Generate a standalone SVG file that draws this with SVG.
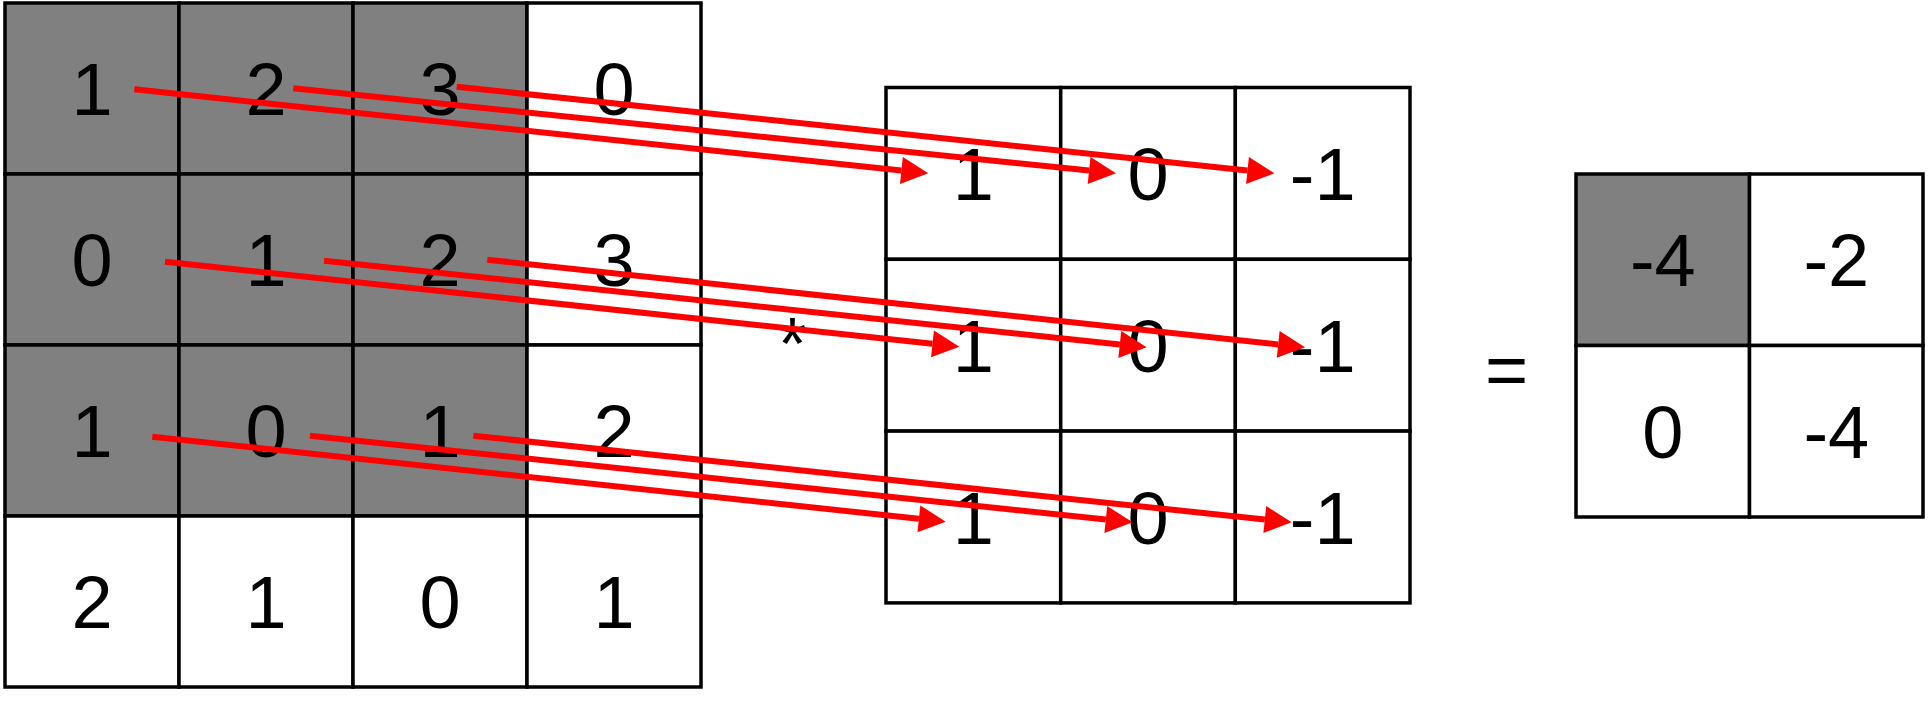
<svg xmlns="http://www.w3.org/2000/svg" width="1929" height="705" viewBox="0 0 1929 705">
<style>
.c{fill:#ffffff;stroke:#000000;stroke-width:3.5}
.g{fill:#808080;stroke:#000000;stroke-width:3.5}
.t{font-family:"Liberation Sans",Arial,sans-serif;font-size:74px;fill:#000000;text-anchor:middle}
.a{fill:none;stroke:#ff0000;stroke-width:6}
</style>
<defs>
<marker id="ah" markerUnits="userSpaceOnUse" markerWidth="28" markerHeight="28" refX="0" refY="13.5" orient="auto" overflow="visible">
<path d="M0,0 L27,13.5 L0,27 Z" fill="#ff0000"/>
</marker>
</defs>
<rect width="1929" height="705" fill="#ffffff"/>
<!-- Input matrix -->
<g id="in-r0c0"><rect class="g" x="5" y="3" width="174" height="171"/><text class="t" x="92" y="115">1</text></g>
<g id="in-r0c1"><rect class="g" x="179" y="3" width="174" height="171"/><text class="t" x="266" y="115">2</text></g>
<g id="in-r0c2"><rect class="g" x="353" y="3" width="174" height="171"/><text class="t" x="440" y="115">3</text></g>
<g id="in-r0c3"><rect class="c" x="527" y="3" width="174" height="171"/><text class="t" x="614" y="115">0</text></g>
<g id="in-r1c0"><rect class="g" x="5" y="174" width="174" height="171"/><text class="t" x="92" y="286">0</text></g>
<g id="in-r1c1"><rect class="g" x="179" y="174" width="174" height="171"/><text class="t" x="266" y="286">1</text></g>
<g id="in-r1c2"><rect class="g" x="353" y="174" width="174" height="171"/><text class="t" x="440" y="286">2</text></g>
<g id="in-r1c3"><rect class="c" x="527" y="174" width="174" height="171"/><text class="t" x="614" y="286">3</text></g>
<g id="in-r2c0"><rect class="g" x="5" y="345" width="174" height="171"/><text class="t" x="92" y="457">1</text></g>
<g id="in-r2c1"><rect class="g" x="179" y="345" width="174" height="171"/><text class="t" x="266" y="457">0</text></g>
<g id="in-r2c2"><rect class="g" x="353" y="345" width="174" height="171"/><text class="t" x="440" y="457">1</text></g>
<g id="in-r2c3"><rect class="c" x="527" y="345" width="174" height="171"/><text class="t" x="614" y="457">2</text></g>
<g id="in-r3c0"><rect class="c" x="5" y="516" width="174" height="171"/><text class="t" x="92" y="628">2</text></g>
<g id="in-r3c1"><rect class="c" x="179" y="516" width="174" height="171"/><text class="t" x="266" y="628">1</text></g>
<g id="in-r3c2"><rect class="c" x="353" y="516" width="174" height="171"/><text class="t" x="440" y="628">0</text></g>
<g id="in-r3c3"><rect class="c" x="527" y="516" width="174" height="171"/><text class="t" x="614" y="628">1</text></g>
<!-- Kernel -->
<g id="k-r0c0"><rect class="c" x="886" y="87.5" width="174.7" height="171.8"/><text class="t" x="973.3" y="200">1</text></g>
<g id="k-r0c1"><rect class="c" x="1060.7" y="87.5" width="174.7" height="171.8"/><text class="t" x="1148" y="200">0</text></g>
<g id="k-r0c2"><rect class="c" x="1235.3" y="87.5" width="174.7" height="171.8"/><text class="t" x="1322.7" y="200">-1</text></g>
<g id="k-r1c0"><rect class="c" x="886" y="259.3" width="174.7" height="171.8"/><text class="t" x="973.3" y="371.7">1</text></g>
<g id="k-r1c1"><rect class="c" x="1060.7" y="259.3" width="174.7" height="171.8"/><text class="t" x="1148" y="371.7">0</text></g>
<g id="k-r1c2"><rect class="c" x="1235.3" y="259.3" width="174.7" height="171.8"/><text class="t" x="1322.7" y="371.7">-1</text></g>
<g id="k-r2c0"><rect class="c" x="886" y="431.1" width="174.7" height="171.8"/><text class="t" x="973.3" y="543.5">1</text></g>
<g id="k-r2c1"><rect class="c" x="1060.7" y="431.1" width="174.7" height="171.8"/><text class="t" x="1148" y="543.5">0</text></g>
<g id="k-r2c2"><rect class="c" x="1235.3" y="431.1" width="174.7" height="171.8"/><text class="t" x="1322.7" y="543.5">-1</text></g>
<!-- Output -->
<g id="out-r0c0"><rect class="g" x="1576" y="174" width="173.5" height="171.5"/><text class="t" x="1662.8" y="286.3">-4</text></g>
<g id="out-r0c1"><rect class="c" x="1749.5" y="174" width="173.5" height="171.5"/><text class="t" x="1836.3" y="286.3">-2</text></g>
<g id="out-r1c0"><rect class="c" x="1576" y="345.5" width="173.5" height="171.5"/><text class="t" x="1662.8" y="457.8">0</text></g>
<g id="out-r1c1"><rect class="c" x="1749.5" y="345.5" width="173.5" height="171.5"/><text class="t" x="1836.3" y="457.8">-4</text></g>
<!-- Operators -->
<g id="op-mul"><text class="t" x="792.5" y="369">*</text></g>
<g id="op-eq"><text class="t" x="1506.5" y="395">=</text></g>
<!-- Connectors -->
<g id="connectors">
<path class="a" marker-end="url(#ah)" d="M134.3,89.3 L901.4,170.5"/>
<path class="a" marker-end="url(#ah)" d="M293.3,88.3 L1089.1,170.5"/>
<path class="a" marker-end="url(#ah)" d="M456.7,86.7 L1247.5,170.5"/>
<path class="a" marker-end="url(#ah)" d="M165,261.7 L932.5,343.8"/>
<path class="a" marker-end="url(#ah)" d="M324,260.7 L1119.8,344.5"/>
<path class="a" marker-end="url(#ah)" d="M487.3,259.7 L1278.2,344.4"/>
<path class="a" marker-end="url(#ah)" d="M152.3,436.7 L918.9,518.8"/>
<path class="a" marker-end="url(#ah)" d="M310,435.7 L1105.8,519.5"/>
<path class="a" marker-end="url(#ah)" d="M473.3,435.7 L1264.8,519.5"/>
</g>
</svg>
